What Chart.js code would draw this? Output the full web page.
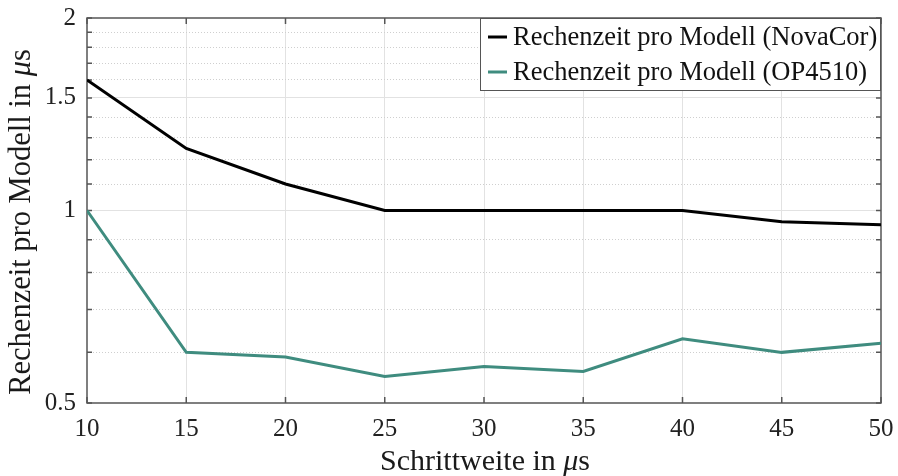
<!DOCTYPE html>
<html>
<head>
<meta charset="utf-8">
<script src="https://cdn.jsdelivr.net/npm/chart.js@4"></script>
<style>
  html, body { margin: 0; background: #fff; }
  #wrap { width: 898px; height: 476px; }
</style>
</head>
<body>
<div id="wrap"><canvas id="chart"></canvas></div>
<script>
// ===== Data =====
const steps = [10, 15, 20, 25, 30, 35, 40, 45, 50];
const novaCor = [1.6, 1.25, 1.1, 1.0, 1.0, 1.0, 1.0, 0.96, 0.95];
const op4510 = [1.0, 0.6, 0.59, 0.55, 0.57, 0.56, 0.63, 0.60, 0.62];
const seriesLabels = ["Rechenzeit pro Modell (NovaCor)", "Rechenzeit pro Modell (OP4510)"];
const yTicks = [0.5, 0.6, 0.7, 0.8, 0.9, 1, 1.1, 1.2, 1.3, 1.4, 1.5, 1.6, 1.7, 1.8, 1.9, 2];
const yMajor = [0.5, 1, 1.5, 2];

const FONT = "'Liberation Serif', 'Times New Roman', serif";
const TEAL = "#3f8c7f";
const FRAME = "#555555";

const toPoints = arr => arr.map((v, i) => ({ x: steps[i], y: v }));
const isMajor = v => yMajor.some(m => Math.abs(m - v) < 1e-9);

// ===== Helper: text with italic mu =====
function drawMuText(ctx, prefix, x, y, size) {
  const normal = size + "px " + FONT;
  const italic = "italic " + size + "px " + FONT;
  ctx.font = normal;
  const w1 = ctx.measureText(prefix).width;
  ctx.font = italic;
  const w2 = ctx.measureText("\u03bc").width;
  ctx.font = normal;
  const w3 = ctx.measureText("s").width;
  let cx = x - (w1 + w2 + w3) / 2;
  ctx.textAlign = "left";
  ctx.textBaseline = "middle";
  ctx.font = normal;
  ctx.fillText(prefix, cx, y);
  cx += w1;
  ctx.font = italic;
  ctx.fillText("\u03bc", cx, y);
  cx += w2;
  ctx.font = normal;
  ctx.fillText("s", cx, y);
}

// ===== Plugin: frame, inward ticks, axis titles, legend =====
const framePlugin = {
  id: "frame",
  beforeDatasetsDraw(chart) {
    const { ctx, chartArea: a, scales } = chart;
    ctx.save();
    ctx.strokeStyle = FRAME;
    ctx.lineWidth = 1.5;
    ctx.beginPath();
    steps.forEach(s => {
      const px = scales.x.getPixelForValue(s);
      ctx.moveTo(px, a.bottom); ctx.lineTo(px, a.bottom - 6);
      ctx.moveTo(px, a.top); ctx.lineTo(px, a.top + 6);
    });
    yTicks.forEach(t => {
      const py = scales.y.getPixelForValue(t);
      ctx.moveTo(a.left, py); ctx.lineTo(a.left + 5, py);
      ctx.moveTo(a.right, py); ctx.lineTo(a.right - 5, py);
    });
    ctx.stroke();
    ctx.strokeRect(a.left, a.top, a.right - a.left, a.bottom - a.top);
    ctx.restore();
  },
  afterDraw(chart) {
    const { ctx, chartArea: a } = chart;
    ctx.save();
    ctx.fillStyle = "#1a1a1a";
    drawMuText(ctx, "Schrittweite in ", (a.left + a.right) / 2 + 1, 462, 30);
    ctx.translate(22, 222);
    ctx.rotate(-Math.PI / 2);
    drawMuText(ctx, "Rechenzeit pro Modell in ", 0, 0, 30.5);
    ctx.restore();

    // legend box
    const box = { x: 480, y: a.top, w: a.right - 480, h: 73 };
    ctx.save();
    ctx.fillStyle = "#fff";
    ctx.fillRect(box.x, box.y, box.w, box.h);
    ctx.strokeStyle = FRAME;
    ctx.lineWidth = 1;
    ctx.strokeRect(box.x + 0.5, box.y + 0.5, box.w - 1, box.h - 1);
    ctx.font = "26.5px " + FONT;
    ctx.textAlign = "left";
    ctx.textBaseline = "middle";
    chart.data.datasets.forEach((ds, i) => {
      const ly = box.y + 19 + i * 35;
      ctx.strokeStyle = ds.borderColor;
      ctx.lineWidth = 3;
      ctx.beginPath();
      ctx.moveTo(box.x + 8, ly); ctx.lineTo(box.x + 27, ly);
      ctx.stroke();
      ctx.fillStyle = "#111";
      ctx.fillText(ds.label, box.x + 33, ly + 1);
    });
    ctx.restore();
  }
};

// ===== Chart =====
new Chart(document.getElementById("chart"), {
  type: "line",
  data: {
    datasets: [
      { label: seriesLabels[0], data: toPoints(novaCor), borderColor: "#000", borderWidth: 3, pointRadius: 0, tension: 0 },
      { label: seriesLabels[1], data: toPoints(op4510), borderColor: TEAL, borderWidth: 3, pointRadius: 0, tension: 0 }
    ]
  },
  options: {
    responsive: true,
    maintainAspectRatio: false,
    animation: false,
    layout: { padding: { left: 0, right: 17, top: 18, bottom: 0 } },
    plugins: { legend: { display: false }, tooltip: { enabled: false } },
    scales: {
      x: {
        type: "linear",
        min: 10, max: 50,
        afterBuildTicks: s => { s.ticks = steps.map(v => ({ value: v })); },
        afterFit: s => { s.height = 73; s.paddingLeft = 0; s.paddingRight = 0; },
        ticks: { color: "#222", padding: 11, autoSkip: false, font: { family: FONT, size: 25 }, maxRotation: 0 },
        grid: {
          drawTicks: false,
          color: ctx => (ctx.tick && (ctx.tick.value === 10 || ctx.tick.value === 50)) ? "rgba(0,0,0,0)" : "#e2e2e2",
          lineWidth: 1
        },
        border: { display: false }
      },
      y: {
        type: "logarithmic",
        min: 0.5, max: 2,
        afterBuildTicks: s => { s.ticks = yTicks.map(v => ({ value: v })); },
        afterFit: s => { s.width = 87; s.paddingTop = 0; s.paddingBottom = 0; },
        ticks: {
          color: "#222", padding: 11, autoSkip: false, font: { family: FONT, size: 25 },
          callback: v => isMajor(v) ? String(v) : ""
        },
        grid: {
          drawTicks: false,
          color: ctx => {
            const v = ctx.tick ? ctx.tick.value : 0;
            if (v <= 0.5 || v >= 2) return "rgba(0,0,0,0)";
            return isMajor(v) ? "#e2e2e2" : "#cfcfcf";
          },
          lineWidth: 1
        },
        border: {
          display: false,
          dash: ctx => (ctx.tick && isMajor(ctx.tick.value)) ? [] : [1, 2]
        }
      }
    }
  },
  plugins: [framePlugin]
});
</script>
</body>
</html>
